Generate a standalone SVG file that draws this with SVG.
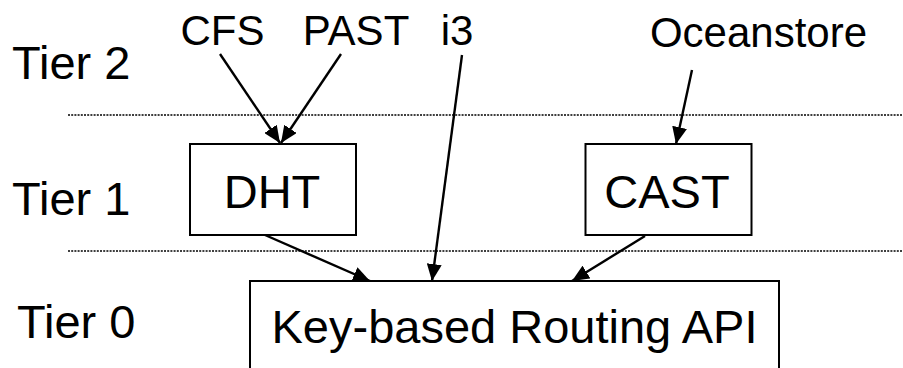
<svg xmlns="http://www.w3.org/2000/svg" width="903" height="368" viewBox="0 0 903 368">
  <style>
    .t { font-family: "Liberation Sans", Arial, sans-serif; fill: #000; }
    .tier { font-size: 47px; }
    .lbl { font-size: 42px; text-anchor: middle; }
    .box { fill: #fff; stroke: #000; stroke-width: 2; }
    .boxtxt { font-size: 47px; text-anchor: middle; }
    .edge { stroke: #000; stroke-width: 2.4; fill: none; }
    .sep { stroke: #000; stroke-width: 1.5; stroke-dasharray: 2 1.2; }
  </style>
  <defs>
    <marker id="arr" markerUnits="userSpaceOnUse" markerWidth="18" markerHeight="15" refX="17" refY="7.5" orient="auto">
      <path d="M0,0 L17,7.5 L0,15 z" fill="#000"/>
    </marker>
  </defs>
  <rect width="903" height="368" fill="#fff"/>
  <g id="separators">
    <line class="sep" x1="68" y1="115" x2="903" y2="115"/>
    <line class="sep" x1="68" y1="251" x2="903" y2="251"/>
  </g>
  <g id="tiers">
    <text class="t tier" x="12" y="79">Tier 2</text>
    <text class="t tier" x="12" y="215">Tier 1</text>
    <text class="t tier" x="17" y="338">Tier 0</text>
  </g>
  <g id="cfs"><text class="t lbl" x="222.5" y="45">CFS</text></g>
  <g id="past"><text class="t lbl" x="356" y="45">PAST</text></g>
  <g id="i3"><text class="t lbl" x="457" y="45">i3</text></g>
  <g id="oceanstore"><text class="t lbl" x="758.5" y="47">Oceanstore</text></g>
  <g id="dht">
    <rect class="box" x="190" y="144" width="166" height="91"/>
    <text class="t boxtxt" x="272" y="208">DHT</text>
  </g>
  <g id="cast">
    <rect class="box" x="585.5" y="144" width="166" height="91"/>
    <text class="t boxtxt" x="667" y="208">CAST</text>
  </g>
  <g id="kbr">
    <rect class="box" x="250" y="281" width="529" height="100"/>
    <text class="t boxtxt" x="514.5" y="343">Key-based Routing API</text>
  </g>
  <g id="connectors">
    <line class="edge" x1="220" y1="54" x2="280" y2="143" marker-end="url(#arr)"/>
    <line class="edge" x1="341" y1="54" x2="281" y2="143" marker-end="url(#arr)"/>
    <line class="edge" x1="692" y1="70" x2="676" y2="144" marker-end="url(#arr)"/>
    <line class="edge" x1="462" y1="55" x2="432" y2="281" marker-end="url(#arr)"/>
    <line class="edge" x1="265" y1="235" x2="370" y2="281" marker-end="url(#arr)"/>
    <line class="edge" x1="645" y1="236" x2="572" y2="281" marker-end="url(#arr)"/>
  </g>
</svg>
